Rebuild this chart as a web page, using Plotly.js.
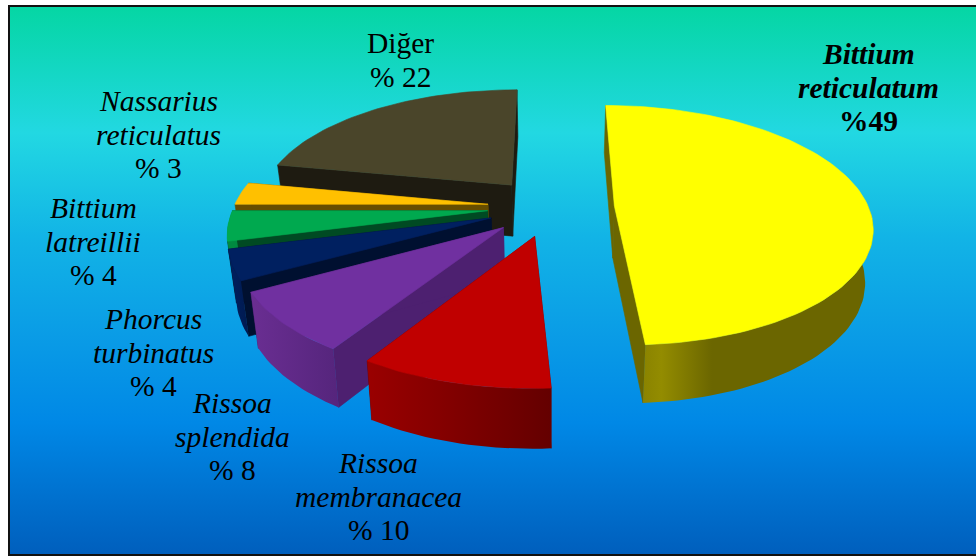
<!DOCTYPE html>
<html>
<head>
<meta charset="utf-8">
<script src="https://cdn.plot.ly/plotly-3.0.1.min.js"></script>
<style>
html,body{margin:0;padding:0;background:#fff;overflow:hidden}
#frame{position:absolute;left:8px;top:5px;width:980px;height:547px;border:2px solid #111;
background:linear-gradient(to bottom,#05d6a4 0%,#22d8e2 23%,#12b4e6 42%,#0a9ce6 60%,#0088e6 76%,#005fbd 100%)}
#chart{position:absolute;left:0;top:0;width:976px;height:556px}
</style>
</head>
<body>
<div id="frame"></div>
<div id="chart"></div>
<script>
const categories = ["Bittium reticulatum","Rissoa membranacea","Rissoa splendida","Phorcus turbinatus","Bittium latreillii","Nassarius reticulatus","Diğer"];
const values = [49,10,8,4,4,3,22];
const labelLines = [["Bittium","reticulatum"],["Rissoa","membranacea"],["Rissoa","splendida"],["Phorcus","turbinatus"],["Bittium","latreillii"],["Nassarius","reticulatus"],["Diğer"]];
const percentText = ["%49","% 10","% 8","% 4","% 4","% 3","% 22"];
const topColors = ["#FFFF00","#C00000","#7030A0","#002060","#00A94F","#FFC000","#4A452A"];
const faceColors = ["#6B6600","#6E0000","#4D2070","#001030","#004A23","#664D00","#1E1B11"];
const rimColors = [
  [[0,"#8A8300"],[0.08,"#938C00"],[0.3,"#6B6600"],[1,"#6B6600"]],
  [[0,"#9A0000"],[1,"#640000"]],
  [[0,"#6A2E92"],[1,"#55257C"]],
  [[0,"#002060"],[1,"#001A50"]],
  [[0,"#008A40"],[1,"#008A40"]],
  [[0,"#B38600"],[1,"#B38600"]],
  [[0,"#2A2617"],[1,"#2A2617"]]
];
const labelCenters = [[868,54],[378,463],[232,403],[153,319],[93,208],[158,101],[400,43]];
const lineStep = 33.7;

const geo = {xc:551,yc:207,a:254,b:117,k:0.16,h:52,back:0.975,explode:0.25};
const total = values.reduce((s,v)=>s+v,0);

function proj(U,V,lower){
  const s = 1/(1-geo.k*V);
  const f = lower ? geo.back : 1;
  return [geo.xc+geo.a*U*s*f, geo.yc+(geo.b*V*f+(lower?geo.h:0))*s];
}
const traces = [];
function poly(pts,color,gradient){
  const t = {x:pts.map(p=>p[0]),y:pts.map(p=>p[1]),mode:"lines",fill:"toself",
    line:{width:0.6,color:color},hoverinfo:"skip",showlegend:false,type:"scatter"};
  if(gradient){t.fillgradient={type:"horizontal",colorscale:gradient};t.line={width:0,color:"rgba(0,0,0,0)"};}
  else t.fillcolor=color;
  traces.push(t);
}
// slice angle spans, clockwise from 12 o'clock
let acc = 0;
const spans = values.map(v=>{const s=[acc,acc+v/total*2*Math.PI];acc=s[1];return s;});
const order = [6,5,4,3,2,1,0];
order.forEach(i=>{
  const [t0,t1] = spans[i];
  const mid = (t0+t1)/2;
  const ex = geo.explode*Math.sin(mid), ey = -geo.explode*Math.cos(mid);
  const n = Math.max(3,Math.ceil((t1-t0)/0.03));
  const upper=[],lower=[],rimU=[],rimL=[];
  for(let j=0;j<=n;j++){
    const t=t0+(t1-t0)*j/n;
    const pu=proj(ex+Math.sin(t),ey-Math.cos(t),false), pl=proj(ex+Math.sin(t),ey-Math.cos(t),true);
    upper.push(pu);lower.push(pl);
    // only the part of the rim that faces the viewer
    if(Math.cos(t)<0.02){rimU.push(pu);rimL.push(pl);}
  }
  const apexU=proj(ex,ey,false), apexL=proj(ex,ey,true);
  // radial faces, rim, top
  poly([apexU,upper[0],lower[0],apexL,apexU],faceColors[i]);
  poly([apexU,upper[n],lower[n],apexL,apexU],faceColors[i]);
  if(rimU.length>1) poly(rimU.concat(rimL.slice().reverse()).concat([rimU[0]]),rimColors[i][0][1],rimColors[i]);
  poly([apexU].concat(upper).concat([apexU]),topColors[i]);
});
const annotations=[];
labelLines.forEach((lines,i)=>{
  const bold=i===0;
  const all=lines.map(l=>bold?`<b><i>${l}</i></b>`:(l==="Diğer"?l:`<i>${l}</i>`))
    .concat([bold?`<b>${percentText[i]}</b>`:percentText[i]]);
  all.forEach((txt,j)=>{
    annotations.push({x:labelCenters[i][0],y:labelCenters[i][1]+j*lineStep,xref:"x",yref:"y",
      text:txt,showarrow:false,xanchor:"center",yanchor:"middle",
      font:{family:"Liberation Serif, Times New Roman, serif",size:29.5,color:"#000"}});
  });
});
Plotly.newPlot("chart",traces,{
  width:976,height:556,margin:{l:0,r:0,t:0,b:0},
  paper_bgcolor:"rgba(0,0,0,0)",plot_bgcolor:"rgba(0,0,0,0)",
  xaxis:{range:[0,976],visible:false,fixedrange:true},
  yaxis:{range:[556,0],visible:false,fixedrange:true},
  showlegend:false,annotations:annotations,hovermode:false
},{displayModeBar:false,staticPlot:true});
</script>
</body>
</html>
